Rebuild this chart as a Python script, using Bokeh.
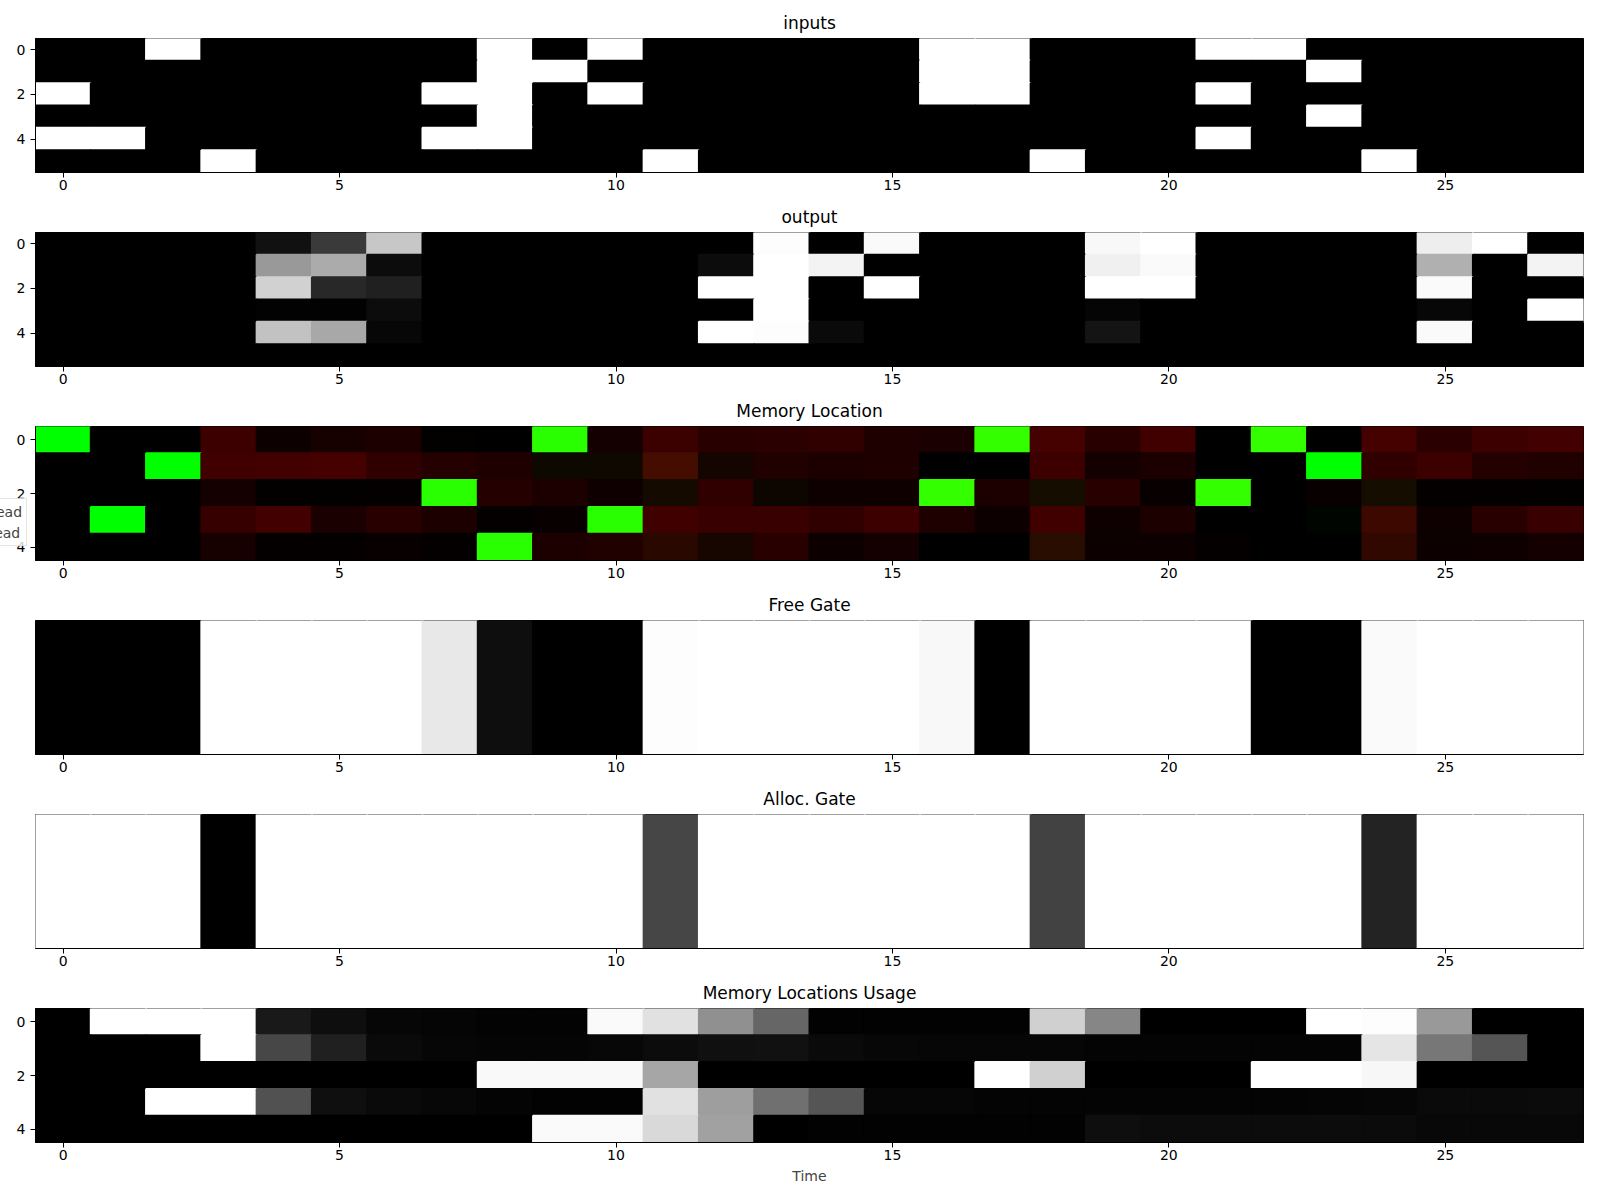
import numpy as np
from bokeh.plotting import figure
from bokeh.models import (Range1d, FixedTicker, LinearColorMapper, ColumnDataSource,
                          Legend, LegendItem)
from bokeh.layouts import column
from bokeh.transform import transform
from bokeh.embed import file_html
from bokeh.resources import INLINE

# ---------------- data ----------------
time_steps = list(range(28))
x_ticks = [0, 5, 10, 15, 20, 25]
y_ticks = [0, 2, 4]

inputs = [
    [0,0,1,0,0,0,0,0,1,0,1,0,0,0,0,0,1,1,0,0,0,1,1,0,0,0,0,0],
    [0,0,0,0,0,0,0,0,1,1,0,0,0,0,0,0,1,1,0,0,0,0,0,1,0,0,0,0],
    [1,0,0,0,0,0,0,1,1,0,1,0,0,0,0,0,1,1,0,0,0,1,0,0,0,0,0,0],
    [0,0,0,0,0,0,0,0,1,0,0,0,0,0,0,0,0,0,0,0,0,0,0,1,0,0,0,0],
    [1,1,0,0,0,0,0,1,1,0,0,0,0,0,0,0,0,0,0,0,0,1,0,0,0,0,0,0],
    [0,0,0,1,0,0,0,0,0,0,0,1,0,0,0,0,0,0,1,0,0,0,0,0,1,0,0,0],
]

output = [
    [0,0,0,0,.07,.23,.78,0,0,0,0,0,0,.99,0,.98,0,0,0,.97,1,0,0,0,0,.93,1,0],
    [0,0,0,0,.60,.67,.05,0,0,0,0,0,.05,1,.95,0,0,0,0,.94,.98,0,0,0,0,.69,0,.95],
    [0,0,0,0,.82,.16,.125,0,0,0,0,0,1,1,0,1,0,0,0,1,1,0,0,0,0,.98,0,0],
    [0,0,0,0,.01,.01,.05,0,0,0,0,0,0,1,0,0,0,0,0,.02,0,0,0,0,0,.03,0,1],
    [0,0,0,0,.76,.66,.03,0,0,0,0,0,1,.99,.04,0,0,0,0,.08,0,0,0,0,0,.98,0,0],
    [0]*28,
]

write_weights = [
    [1,0,0,0,0,0,0,0,0,1,0,0,0,0,0,0,0,1,0,0,0,0,1,0,0,0,0,0],
    [0,0,1,0,0,0,0,0,0,.03,.03,.05,.02,0,0,0,0,0,0,0,0,0,0,1,0,0,0,0],
    [0,0,0,0,0,0,0,1,0,0,0,.04,0,.02,0,0,1,0,.05,0,0,1,0,0,.05,0,0,0],
    [0,1,0,0,0,0,0,0,0,0,1,0,0,0,0,0,0,0,0,0,0,0,0,.02,.03,0,0,0],
    [0,0,0,0,0,0,0,0,1,0,0,.03,.02,0,0,0,0,0,.05,0,0,0,0,0,.03,0,0,0],
]

read_weights = [
    [0,0,0,.24,.05,.09,.11,.01,0,.16,.08,.23,.16,.17,.19,.12,.10,.20,.27,.16,.25,0,.20,0,.27,.17,.24,.26],
    [0,0,0,.25,.26,.27,.19,.14,.12,.05,.05,.27,.08,.13,.11,.12,0,0,.24,.08,.11,0,0,0,.19,.24,.14,.13],
    [0,0,0,.08,.01,.01,.02,.16,.14,.11,.06,.08,.19,.05,.06,.06,.20,.11,.08,.16,.03,.20,0,.03,.08,.02,.02,.01],
    [0,0,0,.21,.26,.10,.16,.11,.02,.03,.16,.25,.22,.22,.19,.24,.12,.05,.25,.06,.11,0,0,0,.24,.06,.16,.22],
    [0,0,0,.09,.02,.02,.03,.02,.16,.11,.13,.16,.09,.16,.05,.08,0,0,.16,.05,.05,.02,0,0,.19,.05,.06,.08],
]

free_gate = [0,0,0,1,1,1,1,.91,.055,0,0,.99,1,1,1,1,.97,0,1,1,1,1,0,0,.98,1,1,1]
alloc_gate = [1,1,1,0,1,1,1,1,1,1,1,.275,1,1,1,1,1,1,.26,1,1,1,1,1,.14,1,1,1]

usage = [
    [0,1,1,1,.10,.055,.025,.02,.015,.012,.98,.88,.565,.40,.01,.01,.01,.01,.815,.525,0,0,0,1,.99,.60,0,0],
    [0,0,0,1,.28,.125,.04,.025,.02,.02,.03,.047,.063,.067,.04,.03,.024,.024,.024,.016,.016,.016,.016,.016,.895,.465,.335,0],
    [0,0,0,0,0,0,0,0,.975,.975,.975,.65,0,0,0,0,0,1,.815,0,0,0,1,1,.965,0,0,0],
    [0,0,1,1,.32,.06,.04,.03,.016,.008,.008,.88,.62,.44,.335,.027,.024,.016,.016,.016,.016,.016,.016,.02,.027,.04,.04,.043],
    [0,0,0,0,0,0,0,0,0,.98,.98,.85,.63,0,.008,.008,.008,.008,.008,.055,.047,.047,.047,.047,.043,.035,.035,.035],
]

legend_labels = ["Write Head", "Read Head"]

# ---------------- helpers ----------------
FONT = "DejaVu Sans"
gray256 = ["#%02x%02x%02x" % (i, i, i) for i in range(256)]


def make_panel(title, top, bottom, nrows, show_y=True, xlabel=None):
    p = figure(frame_width=1548, frame_height=134,
               min_border_left=35, min_border_right=17,
               min_border_top=top, min_border_bottom=bottom,
               x_range=Range1d(-0.5, 27.5), y_range=Range1d(nrows - 0.5, -0.5),
               output_backend="svg", toolbar_location=None, title=title)
    p.title.align = "center"
    p.title.text_font = FONT
    p.title.text_font_size = "17px"
    p.title.text_font_style = "normal"
    p.title.text_color = "black"
    p.title.standoff = 11
    p.xgrid.visible = False
    p.ygrid.visible = False
    p.outline_line_color = "black"
    p.outline_line_alpha = 1
    p.outline_line_width = 1
    p.background_fill_color = "white"
    p.border_fill_color = "white"
    p.xaxis.ticker = FixedTicker(ticks=x_ticks)
    p.yaxis.ticker = FixedTicker(ticks=y_ticks)
    for ax in p.axis:
        ax.major_label_text_font = FONT
        ax.major_label_text_font_size = "14px"
        ax.major_label_text_color = "black"
        ax.major_tick_out = 5
        ax.major_tick_in = 0
        ax.minor_tick_out = 0
        ax.minor_tick_in = 0
        ax.axis_line_color = "black"
        ax.major_tick_line_color = "black"
    p.xaxis.major_label_standoff = 2
    p.yaxis.major_label_standoff = 5
    if not show_y:
        p.yaxis.visible = False
    if xlabel:
        p.xaxis.axis_label = xlabel
        p.xaxis.axis_label_text_font = FONT
        p.xaxis.axis_label_text_font_size = "14px"
        p.xaxis.axis_label_text_font_style = "normal"
        p.xaxis.axis_label_standoff = 5
    return p


def gray_cells(p, data):
    arr = np.asarray(data, dtype=float)
    nrows = arr.shape[0]
    xs, ys = np.meshgrid(time_steps, list(range(nrows)))
    src = ColumnDataSource(dict(x=xs.ravel(), y=ys.ravel(), v=arr.ravel()))
    mapper = LinearColorMapper(palette=gray256, low=0, high=1)
    p.rect("x", "y", width=1, height=1, source=src,
           fill_color=transform("v", mapper), line_color=transform("v", mapper),
           line_width=2)


# ---------------- panels ----------------
p1 = make_panel("inputs", 38, 26, 6)
gray_cells(p1, inputs)

p2 = make_panel("output", 34, 26, 6)
gray_cells(p2, output)

p3 = make_panel("Memory Location", 34, 26, 5)
R = np.clip(np.asarray(read_weights, dtype=float), 0, 1)
G = np.clip(np.asarray(write_weights, dtype=float), 0, 1)
xs, ys = np.meshgrid(time_steps, list(range(R.shape[0])))
cols = ["#%02x%02x00" % (int(round(r * 255)), int(round(g * 255)))
        for r, g in zip(R.ravel(), G.ravel())]
src3 = ColumnDataSource(dict(x=xs.ravel(), y=ys.ravel(), c=cols))
p3.rect("x", "y", width=1, height=1, source=src3, fill_color="c", line_color="c", line_width=2)
rw = p3.rect(x=[], y=[], width=1, height=1, fill_color="green", line_color="green")
rr = p3.rect(x=[], y=[], width=1, height=1, fill_color="red", line_color="red")
# legend lives in the left side panel (not clipped to the frame); a negative
# margin keeps it from taking room there, so the frames stay aligned.
legend = Legend(items=[LegendItem(label=legend_labels[0], renderers=[rw]),
                       LegendItem(label=legend_labels[1], renderers=[rr])],
                location=(-100, 14), label_text_font=FONT, label_text_font_size="14px",
                border_line_color="#cccccc", border_line_width=1,
                background_fill_color="white", background_fill_alpha=0.8,
                padding=4, spacing=4, margin=-295, glyph_width=28, glyph_height=10,
                label_height=17, label_standoff=11)
p3.add_layout(legend, "left")

p4 = make_panel("Free Gate", 34, 26, 1, show_y=False)
gray_cells(p4, [free_gate])

p5 = make_panel("Alloc. Gate", 34, 26, 1, show_y=False)
gray_cells(p5, [alloc_gate])

p6 = make_panel("Memory Locations Usage", 34, 52, 5, xlabel="Time")
gray_cells(p6, usage)

layout = column(p1, p2, p3, p4, p5, p6, spacing=0)
open("out.html", "w").write(file_html(layout, INLINE, title="DNC visualization"))
